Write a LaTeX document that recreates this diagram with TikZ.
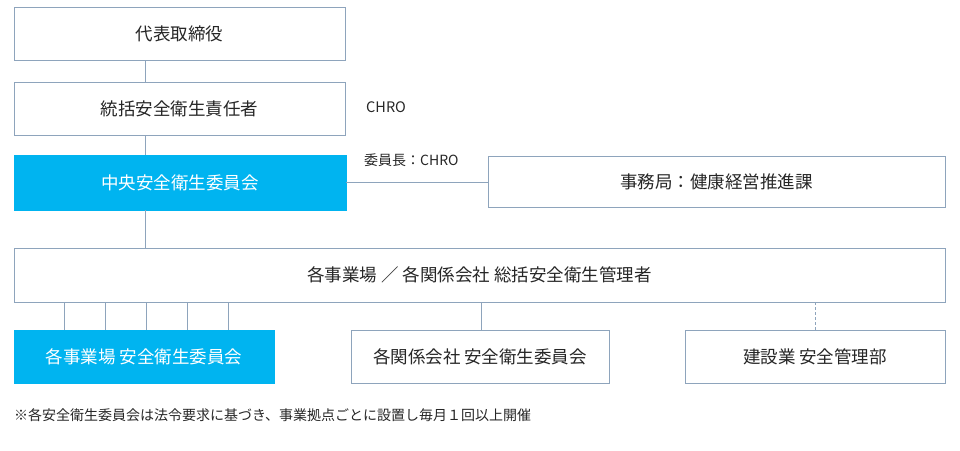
\documentclass[tikz,border=0pt]{standalone}
\usepackage{fontspec}
\setmainfont{Noto Sans CJK JP}
\begin{document}
\begin{tikzpicture}[x=1pt,y=-1pt,
  bx/.style={draw=lc,line width=0.8pt,fill=white,font=\fontsize{17.5}{20}\selectfont,text=black!85},
  fb/.style={fill=cy,draw=cy,font=\fontsize{17.5}{20}\selectfont,text=white},
  ln/.style={draw=lc,line width=0.8pt}]
\definecolor{lc}{HTML}{8EA4BC}
\definecolor{cy}{HTML}{00B4F0}
\useasboundingbox (0,0) rectangle (960,450);
\def\bxx#1#2#3#4#5#6#7{\node[#6,minimum width=#3-#1,minimum height=#4-#2,inner sep=0] (#7) at ({(#1+#3)/2},{(#2+#4)/2}) {#5};}
\bxx{14}{7}{345}{60}{代表取締役}{bx}{a}
\bxx{14}{82}{345}{135}{統括安全衛生責任者}{bx}{b}
\bxx{14}{155}{346}{210}{中央安全衛生委員会}{fb}{c}
\bxx{488}{156}{945}{207}{事務局：健康経営推進課}{bx}{d}
\bxx{14}{248}{945}{302}{各事業場 ／ 各関係会社 総括安全衛生管理者}{bx}{e}
\bxx{14}{330}{274}{383}{各事業場 安全衛生委員会}{fb}{f}
\bxx{351}{330}{609}{383}{各関係会社 安全衛生委員会}{bx}{g}
\bxx{685}{330}{945}{383}{建設業 安全管理部}{bx}{h}
\draw[ln] (a.south -| 145,0) -- (b.north -| 145,0);
\draw[ln] (b.south -| 145,0) -- (c.north -| 145,0);
\draw[ln] (c.south -| 145,0) -- (e.north -| 145,0);
\draw[ln] (c.east |- 0,182) -- (d.west |- 0,182);
\foreach \x in {64,105,146,187,228} \draw[ln] (e.south -| \x,0) -- (f.north -| \x,0);
\draw[ln] (e.south -| 481,0) -- (g.north -| 481,0);
\draw[ln,dashed,dash pattern=on 3pt off 2pt] (e.south -| 815,0) -- (h.north -| 815,0);
\node[anchor=west,inner sep=0,font=\fontsize{14.5}{16}\selectfont,text=black!85] (t1) at (366,107) {CHRO};
\node[anchor=west,inner sep=0,font=\fontsize{14}{16}\selectfont,text=black!85] (t2) at (364,160) {委員長：CHRO};
\node[anchor=west,inner sep=0,font=\fontsize{14}{16}\selectfont,text=black!85] (t3) at (14,415) {※各安全衛生委員会は法令要求に基づき、事業拠点ごとに設置し毎月１回以上開催};
\end{tikzpicture}
\end{document}
